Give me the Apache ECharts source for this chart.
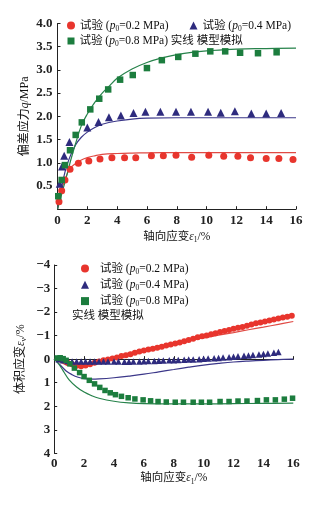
<!DOCTYPE html>
<html><head><meta charset="utf-8">
<script src="https://cdn.jsdelivr.net/npm/echarts@6/dist/echarts.min.js"></script>
<style>html,body{margin:0;padding:0;background:#fff}#c{width:325px;height:505px}</style>
</head><body><div id="c"></div>
<script>
// ---------- data (top: deviatoric stress q vs axial strain) ----------
const xTicksTop = [0, 2, 4, 6, 8, 10, 12, 14, 16];
const qTicks = ['', '0.5', '1.0', '1.5', '2.0', '2.5', '3.0', '3.5', '4.0'];
const vTicks = ['−4', '−3', '−2', '−1', '0', '1', '2', '3', '4'];

const qTest02 = [[0.1,0.16],[0.28,0.4],[0.5,0.63],[0.84,0.86],[1.4,0.99],[2.1,1.04],[2.85,1.08],[3.65,1.11],[4.5,1.11],[5.25,1.11],[6.3,1.15],[7.1,1.15],[7.95,1.16],[9.0,1.12],[10.15,1.16],[11.15,1.14],[12.1,1.14],[12.95,1.11],[14.0,1.09],[14.85,1.09],[15.8,1.07]];
const qTest04 = [[0.15,0.55],[0.3,0.92],[0.45,1.15],[0.8,1.45],[2.0,1.76],[2.75,1.88],[3.45,1.98],[4.25,2.02],[5.1,2.07],[5.9,2.1],[6.9,2.1],[7.95,2.1],[8.95,2.1],[10.1,2.1],[10.95,2.08],[11.9,2.11],[13.0,2.06],[14.0,2.06],[15.0,2.07]];
const qTest08 = [[0.05,0.28],[0.28,0.63],[0.5,0.95],[0.84,1.27],[1.22,1.6],[1.63,1.87],[2.2,2.15],[2.8,2.38],[3.4,2.58],[4.2,2.79],[5.05,2.89],[6.0,3.04],[7.0,3.21],[8.1,3.28],[9.25,3.35],[10.25,3.4],[11.25,3.4],[12.25,3.37],[13.45,3.36],[14.7,3.38]];
const qModel02 = [[0,0],[0.2,0.35],[0.5,0.63],[0.8,0.86],[1.2,0.98],[1.6,1.06],[2,1.11],[2.5,1.15],[3,1.18],[4,1.2],[5,1.21],[6,1.215],[8,1.22],[16,1.22]];
const qModel04 = [[0,0],[0.2,0.35],[0.5,0.8],[0.8,1.1],[1.2,1.38],[1.6,1.55],[2,1.66],[2.5,1.76],[3,1.83],[4,1.9],[5,1.94],[6,1.96],[8,1.97],[16,1.97]];
const qModel08 = [[0,0],[0.3,0.35],[0.6,0.7],[0.9,1.07],[1.2,1.4],[1.6,1.8],[2,2.05],[2.5,2.3],[3,2.5],[3.5,2.66],[4,2.82],[5,3.02],[6,3.16],[7,3.26],[8,3.33],[9,3.38],[10,3.41],[12,3.45],[14,3.46],[16,3.47]];

// ---------- data (bottom: volumetric strain vs axial strain) ----------
const vTest02 = [[0.3,0.0],[0.6,0.05],[0.9,0.15],[1.2,0.22],[1.5,0.28],[1.8,0.3],[2.1,0.27],[2.4,0.22],[2.7,0.15],[3.0,0.1],[3.3,0.05],[3.6,0.01],[3.9,-0.03],[4.2,-0.07],[4.5,-0.13],[4.8,-0.17],[5.1,-0.21],[5.4,-0.27],[5.7,-0.32],[6.0,-0.37],[6.3,-0.41],[6.6,-0.44],[6.9,-0.48],[7.2,-0.53],[7.5,-0.58],[7.8,-0.62],[8.1,-0.67],[8.4,-0.71],[8.7,-0.76],[9.0,-0.81],[9.3,-0.87],[9.6,-0.93],[9.9,-0.97],[10.2,-1.01],[10.5,-1.06],[10.8,-1.1],[11.1,-1.15],[11.4,-1.2],[11.7,-1.24],[12.0,-1.29],[12.3,-1.33],[12.6,-1.37],[12.9,-1.42],[13.2,-1.47],[13.5,-1.52],[13.8,-1.56],[14.1,-1.6],[14.4,-1.64],[14.7,-1.68],[15.0,-1.73],[15.3,-1.77],[15.6,-1.8],[15.9,-1.84]];
const vTest04 = [[0.3,0.0],[0.6,0.05],[0.9,0.08],[1.2,0.1],[1.5,0.1],[1.8,0.1],[2.1,0.1],[2.4,0.1],[2.7,0.1],[3.0,0.1],[3.3,0.1],[3.6,0.1],[4.0,0.1],[4.3,0.1],[4.7,0.11],[5.0,0.11],[5.3,0.1],[5.7,0.1],[6.0,0.09],[6.3,0.08],[6.7,0.08],[7.0,0.07],[7.3,0.06],[7.7,0.05],[8.0,0.05],[8.3,0.04],[8.7,0.03],[9.0,0.02],[9.3,0.01],[9.7,0.0],[10.0,-0.02],[10.3,-0.03],[10.7,-0.04],[11.0,-0.05],[11.3,-0.07],[11.7,-0.08],[12.0,-0.1],[12.3,-0.12],[12.7,-0.14],[13.0,-0.16],[13.3,-0.18],[13.7,-0.2],[14.0,-0.22],[14.3,-0.24],[14.7,-0.27],[15.0,-0.3]];
const vTest08 = [[0.2,-0.05],[0.4,-0.06],[0.6,-0.02],[0.8,0.05],[1.05,0.2],[1.35,0.38],[1.7,0.57],[2.0,0.74],[2.35,0.9],[2.7,1.05],[3.05,1.2],[3.4,1.33],[3.75,1.43],[4.1,1.51],[4.5,1.58],[4.95,1.64],[5.4,1.69],[5.95,1.73],[6.45,1.77],[6.95,1.8],[7.5,1.82],[8.1,1.83],[8.65,1.83],[9.3,1.83],[9.85,1.83],[10.4,1.83],[11.1,1.8],[11.7,1.8],[12.3,1.78],[12.9,1.78],[13.6,1.76],[14.2,1.73],[14.8,1.73],[15.4,1.7],[15.95,1.66]];
const vModel02 = [[0,0],[0.5,0.15],[1,0.28],[1.5,0.3],[2,0.25],[2.5,0.17],[3,0.08],[3.5,-0.01],[4,-0.1],[5,-0.26],[6,-0.41],[7,-0.54],[8,-0.66],[9,-0.79],[10,-0.9],[11,-1.02],[12,-1.13],[13,-1.25],[14,-1.36],[15,-1.48],[16,-1.6]];
const vModel04 = [[0,0],[0.4,0.25],[0.8,0.5],[1.2,0.66],[1.6,0.77],[2,0.83],[2.5,0.85],[3,0.84],[4,0.79],[5,0.72],[6,0.64],[7,0.54],[8,0.44],[9,0.34],[10,0.25],[11,0.18],[12,0.12],[13,0.08],[14,0.05],[15,0.02],[16,0.0]];
const vModel08 = [[0,0],[0.3,0.2],[0.6,0.5],[1,0.88],[1.5,1.18],[2,1.4],[2.5,1.55],[3,1.66],[4,1.79],[5,1.86],[6,1.89],[8,1.9],[10,1.9],[12,1.89],[14,1.88],[16,1.87]];

const pressures = { a02: '0.2', a04: '0.4', a08: '0.8', b02: '0.2', b04: '0.4', b08: '0.8' };

// ---------- styling ----------
const FONT = '"Liberation Serif", "Noto Sans CJK SC", serif';
const RED = '#e8352d', BLUE = '#2e2b7e', GREEN = '#1c7d3e';
const RED_L = '#e04a44', BLUE_L = '#3b3789', GREEN_L = '#26824a';
const rich = {
  i: { fontFamily: FONT, fontStyle: 'italic', fontSize: 11.5, lineHeight: 14, color: '#111' },
  s: { fontFamily: FONT, fontSize: 7.5, lineHeight: 7, verticalAlign: 'bottom', color: '#111' }
};
const legendText = { fontFamily: FONT, fontSize: 11.5, lineHeight: 14, color: '#111', rich: rich };
const fmtLegend = (name) => {
  let s = '试验 ({i|p}{s|0}=' + pressures[name] + ' MPa)';
  if (name === 'a08') s += ' 实线 模型模拟';
  return s;
};

function xAxis(gridIndex, margin, nameGap) {
  return {
    type: 'value', gridIndex, min: 0, max: 16, interval: 2,
    name: '轴向应变{i|ε}{s|1}/%', nameLocation: 'middle', nameGap, nameMoveOverlap: false,
    nameTextStyle: { fontFamily: FONT, fontSize: 11.5, color: '#111', lineHeight: 14, rich },
    axisLine: { lineStyle: { color: '#222', width: 1 } },
    axisTick: { inside: true, length: 3, lineStyle: { color: '#222' } },
    axisLabel: { margin, fontFamily: FONT, fontSize: 13, fontWeight: 'bold', color: '#222',
      formatter: v => String(xTicksTop[Math.round(v / 2)]) },
    splitLine: { show: false }
  };
}

const scatter = (name, data, symbol, color, size, xi, yi) => ({
  name, type: 'scatter', data, symbol, symbolSize: size, xAxisIndex: xi, yAxisIndex: yi,
  itemStyle: { color, opacity: 1 }, z: 3
});
const line = (data, color, xi, yi) => ({
  type: 'line', data, smooth: 0.4, showSymbol: false, xAxisIndex: xi, yAxisIndex: yi,
  lineStyle: { color, width: 1.2 }, z: 2, silent: true
});

const chart = echarts.init(document.getElementById('c'), null, { renderer: 'canvas' });
chart.setOption({
  backgroundColor: '#fff',
  animation: false,
  grid: [
    { left: 57.5, top: 23.5, width: 238.5, height: 185.7 },
    { left: 54.2, top: 265, width: 239.1, height: 188.3 }
  ],
  xAxis: [xAxis(0, 5, 21), xAxis(1, 4, 18)],
  yAxis: [
    {
      type: 'value', gridIndex: 0, min: 0, max: 4, interval: 0.5,
      name: '偏差应力{i|q}/MPa', nameLocation: 'middle', nameGap: 26, nameRotate: 90, nameMoveOverlap: false,
      nameTextStyle: { fontFamily: FONT, fontSize: 12, color: '#111', lineHeight: 14, rich },
      axisLine: { show: true, lineStyle: { color: '#222', width: 1 } },
      axisTick: { show: true, inside: true, length: 3, lineStyle: { color: '#222' } },
      axisLabel: { margin: 5, fontFamily: FONT, fontSize: 13, fontWeight: 'bold', color: '#222',
        formatter: v => qTicks[Math.round(v / 0.5)] },
      splitLine: { show: false }
    },
    {
      type: 'value', gridIndex: 1, min: -4, max: 4, interval: 1, inverse: true,
      name: '体积应变{i|ε}{s|v}/%', nameLocation: 'middle', nameGap: 26, nameRotate: 90, nameMoveOverlap: false,
      nameTextStyle: { fontFamily: FONT, fontSize: 12, color: '#111', lineHeight: 14, rich },
      axisLine: { show: true, lineStyle: { color: '#222', width: 1 } },
      axisTick: { show: true, inside: true, length: 3, lineStyle: { color: '#222' } },
      axisLabel: { margin: 4, fontFamily: FONT, fontSize: 13, fontWeight: 'bold', color: '#222',
        formatter: v => vTicks[Math.round(v) + 4] },
      splitLine: { show: false }
    }
  ],
  legend: [
    { data: [{ name: 'a02', icon: 'circle' }], left: 67, top: 18.5, padding: 0, itemWidth: 8, itemHeight: 8, itemGap: 0,
      formatter: fmtLegend, textStyle: legendText, selectedMode: false },
    { data: [{ name: 'a04', icon: 'triangle' }], left: 189.5, top: 18.5, padding: 0, itemWidth: 8, itemHeight: 8, itemGap: 0,
      formatter: fmtLegend, textStyle: legendText, selectedMode: false },
    { data: [{ name: 'a08', icon: 'rect' }], left: 67.5, top: 34, padding: 0, itemWidth: 7, itemHeight: 7, itemGap: 0,
      formatter: fmtLegend, textStyle: legendText, selectedMode: false },
    { data: [{ name: 'b02', icon: 'circle' }, { name: 'b04', icon: 'triangle' }, { name: 'b08', icon: 'rect' }],
      orient: 'vertical', left: 81, top: 261.5, padding: 0, itemWidth: 8, itemHeight: 8, itemGap: 2.3,
      formatter: fmtLegend, textStyle: Object.assign({}, legendText, { padding: [0, 0, 0, 6] }), selectedMode: false }
  ],
  graphic: [
    { type: 'text', left: 72, top: 310,
      style: { text: '实线 模型模拟', font: '11.5px ' + FONT, fill: '#111' } }
  ],
  series: [
    line(qModel02, RED_L, 0, 0),
    line(qModel04, BLUE_L, 0, 0),
    line(qModel08, GREEN_L, 0, 0),
    scatter('a02', qTest02, 'circle', RED, 7, 0, 0),
    scatter('a04', qTest04, 'triangle', BLUE, 8, 0, 0),
    scatter('a08', qTest08, 'rect', GREEN, 6.5, 0, 0),
    line(vModel02, RED_L, 1, 1),
    line(vModel04, BLUE_L, 1, 1),
    line(vModel08, GREEN_L, 1, 1),
    scatter('b02', vTest02, 'circle', RED, 6, 1, 1),
    scatter('b04', vTest04, 'triangle', BLUE, 6.5, 1, 1),
    scatter('b08', vTest08, 'rect', GREEN, 5.5, 1, 1)
  ]
});
</script></body></html>
